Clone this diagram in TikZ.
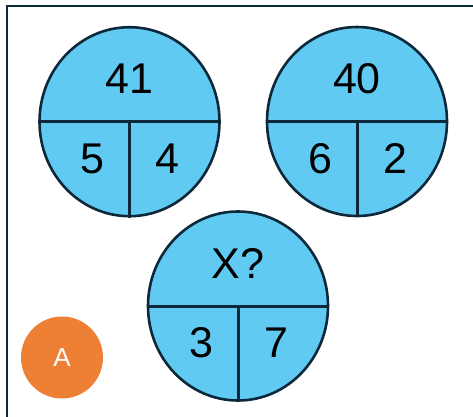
\documentclass[tikz,border=0pt]{standalone}
\usepackage{fontspec}
\setmainfont{Liberation Sans}
\usetikzlibrary{shapes.geometric,positioning}
\definecolor{skyfill}{RGB}{96,202,242}
\definecolor{inkline}{RGB}{12,40,58}
\definecolor{badgeorange}{RGB}{237,128,52}
\tikzset{
  puzzlecirc/.style={ellipse,draw=inkline,line width=2.6pt,fill=skyfill,minimum width=180pt,minimum height=189pt,inner sep=0pt},
  numlbl/.style={font=\fontsize{43}{43}\selectfont,text=black,inner sep=0pt},
  divline/.style={draw=inkline,line width=3pt}
}
\begin{document}
\begin{tikzpicture}[x=1pt,y=-1pt]
  \useasboundingbox (0,0) rectangle (473,416);
  \draw[inkline,line width=2.2pt] (7,6) rectangle (490,430);
  \foreach \n/\cx/\cy/\hd/\lv/\rv in {a/129.5/121.7/41/5/4, b/357/121.5/40/6/2, c/238/306/X?/3/7} {
    \node[puzzlecirc] (\n) at (\cx,\cy) {};
    \draw[divline] (\n.west) -- (\n.east) (\n.center) -- (\n.south);
    \node[numlbl] (\n-hd) at (\cx,\cy-43) {\hd};
    \node[numlbl] (\n-lv) at (\cx-37,\cy+37) {\lv};
    \node[numlbl] (\n-rv) at (\cx+38,\cy+37) {\rv};
  }
  \node[circle,fill=badgeorange,minimum size=82pt,inner sep=0pt,text=white,
    font=\fontsize{26}{26}\selectfont] (badge) at (62,357.5) {A};
\end{tikzpicture}
\end{document}
